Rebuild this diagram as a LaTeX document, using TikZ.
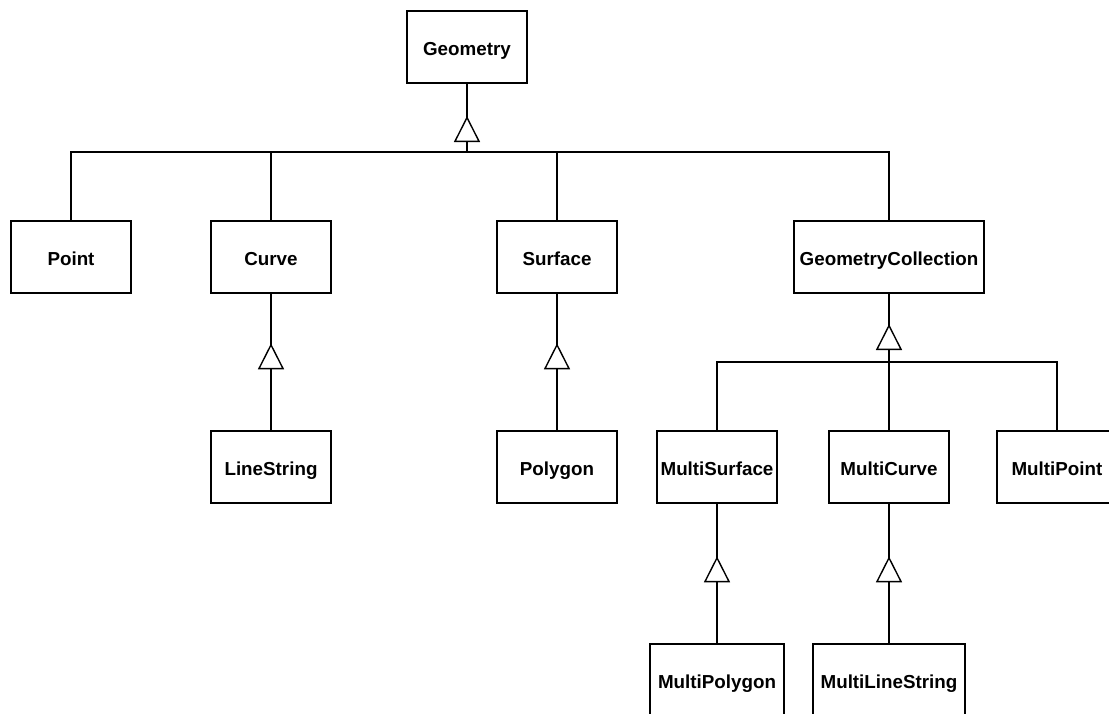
\documentclass[tikz,border=0pt]{standalone}
\usepackage{fontspec}
\setmainfont{Liberation Sans}
\usetikzlibrary{arrows.meta,decorations.markings}
\begin{document}
\begin{tikzpicture}[x=1pt,y=-1pt,line width=1.4pt,
  cls/.style={draw,rectangle,inner sep=0pt,minimum width=120pt,minimum height=72pt,
    text height=20pt,text depth=4pt,
    font=\fontsize{18.8}{22}\selectfont\bfseries},
  gen/.style={postaction={decorate,decoration={markings,
    mark=at position #1 with {\arrow[line width=1.4pt]{Triangle[length=26pt,width=26pt,fill=white,line join=miter]}}}}}]
\useasboundingbox (0,0) rectangle (1109,713);
% classes
\node[cls] (geom) at (467,47) {Geometry};
\node[cls] (point) at (71,257) {Point};
\node[cls] (curve) at (271,257) {Curve};
\node[cls] (surf) at (557,257) {Surface};
\node[cls,minimum width=190pt] (gc) at (889,257) {GeometryCollection};
\node[cls] (ls) at (271,467) {LineString};
\node[cls] (poly) at (557,467) {Polygon};
\node[cls] (msurf) at (717,467) {MultiSurface};
\node[cls] (mcurve) at (889,467) {MultiCurve};
\node[cls] (mpoint) at (1057,467) {MultiPoint};
\node[cls,minimum width=134pt] (mpoly) at (717,680) {MultiPolygon};
\node[cls,minimum width=152pt] (mls) at (889,680) {MultiLineString};
% junctions of the generalisation buses
\coordinate (gbar) at (467,152);
\coordinate (gcbar) at (889,362);
% Geometry subclasses
\draw (point.north) |- (gbar);
\draw (gc.north) |- (gbar);
\draw (curve.north) -- (curve.north |- gbar);
\draw (surf.north) -- (surf.north |- gbar);
\draw[gen=36pt] (gbar) -- (geom.south);
% GeometryCollection subclasses
\draw (msurf.north) |- (gcbar);
\draw (mpoint.north) |- (gcbar);
\draw (mcurve.north) -- (gcbar);
\draw[gen=38pt] (gcbar) -- (gc.south);
% single inheritance
\draw[gen=87pt] (ls.north) -- (curve.south);
\draw[gen=87pt] (poly.north) -- (surf.south);
\draw[gen=87pt] (mpoly.north) -- (msurf.south);
\draw[gen=87pt] (mls.north) -- (mcurve.south);
\end{tikzpicture}
\end{document}
